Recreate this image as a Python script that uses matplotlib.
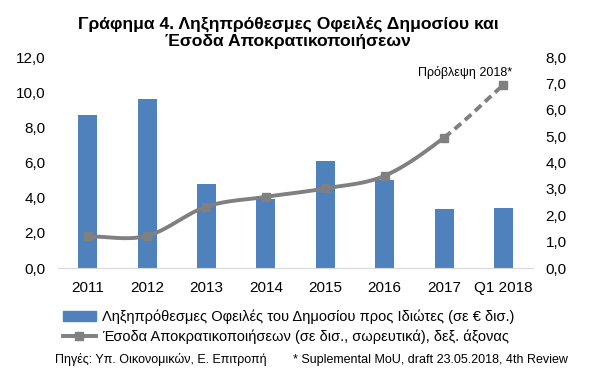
import numpy as np
import matplotlib
matplotlib.use("Agg")
import matplotlib.pyplot as plt
from matplotlib.ticker import FuncFormatter
from matplotlib.lines import Line2D
from matplotlib.patches import Patch

plt.rcParams['font.family'] = ['Liberation Sans', 'DejaVu Sans']

categories = ["2011", "2012", "2013", "2014", "2015", "2016", "2017", "Q1 2018"]
arrears = [8.7, 9.6, 4.8, 3.9, 6.1, 5.0, 3.35, 3.4]
privatisation = [1.2, 1.22, 2.33, 2.7, 3.02, 3.5, 4.95, 6.95]

title = "Γράφημα 4. Ληξηπρόθεσμες Οφειλές Δημοσίου και\nΈσοδα Αποκρατικοποιήσεων"
bar_label = "Ληξηπρόθεσμες Οφειλές του Δημοσίου προς Ιδιώτες (σε € δισ.)"
line_label = "Έσοδα Αποκρατικοποιήσεων (σε δισ., σωρευτικά), δεξ. άξονας"
source_text = "Πηγές: Υπ. Οικονομικών, Ε. Επιτροπή"
note_text = "* Suplemental MoU, draft 23.05.2018, 4th Review"
forecast_text = "Πρόβλεψη 2018*"

bar_color = "#4F81BD"
line_color = "#808080"

def catmull_rom(x, y, n=30):
    x = np.asarray(x, float); y = np.asarray(y, float)
    px = np.concatenate([[2*x[0]-x[1]], x, [2*x[-1]-x[-2]]])
    py = np.concatenate([[2*y[0]-y[1]], y, [2*y[-1]-y[-2]]])
    segs = []
    for i in range(1, len(px)-2):
        t = np.linspace(0, 1, n)
        def cr(p0, p1, p2, p3):
            return 0.5*((2*p1) + (-p0+p2)*t + (2*p0-5*p1+4*p2-p3)*t**2 + (-p0+3*p1-3*p2+p3)*t**3)
        segs.append((cr(px[i-1], px[i], px[i+1], px[i+2]), cr(py[i-1], py[i], py[i+1], py[i+2])))
    return segs

fig = plt.figure(figsize=(5.97, 3.89), dpi=100)
ax = fig.add_axes([0.097, 0.311, 0.796, 0.542])
x = np.arange(len(categories))
ax.bar(x, arrears, width=0.32, color=bar_color, zorder=2)
ax.set_xlim(-0.5, len(categories)-0.5)
ax.set_ylim(0, 12)
ax.set_yticks(np.arange(0, 12.01, 2))
fmt = FuncFormatter(lambda v, p: f"{v:.1f}".replace(".", ","))
ax.yaxis.set_major_formatter(fmt)
ax.set_xticks(x)
ax.set_xticklabels(categories)
for s in ["top", "right", "left"]:
    ax.spines[s].set_visible(False)
ax.spines["bottom"].set_color("#d9d9d9")
ax.tick_params(axis="both", length=0, labelsize=11, colors="#000000")
ax.tick_params(axis="x", pad=9)
ax.tick_params(axis="y", pad=9)

ax2 = ax.twinx()
ax2.set_ylim(0, 8)
ax2.set_yticks(np.arange(0, 8.01, 1))
ax2.yaxis.set_major_formatter(fmt)
for s in ["top", "right", "left", "bottom"]:
    ax2.spines[s].set_visible(False)
ax2.tick_params(axis="y", length=0, labelsize=11, pad=9)

segs = catmull_rom(x, privatisation)
for i, (sx, sy) in enumerate(segs):
    ls = (0, (2.2, 1.3)) if i == len(segs)-1 else "-"
    ax2.plot(sx, sy, color=line_color, lw=2.8, ls=ls, solid_capstyle="round", zorder=3)
ax2.plot(x, privatisation, ls="none", marker="s", ms=6, color=line_color, zorder=4)
ax2.text(x[-1]+0.15, privatisation[-1]+0.22, forecast_text, ha="right", va="bottom", fontsize=9)

fig.text(0.483, 0.915, title, ha="center", va="center", fontsize=12.6, fontweight="bold", linespacing=1.05)

handles = [Patch(color=bar_color), Line2D([0], [0], color=line_color, lw=2.8, marker="s", ms=6)]
fig.legend(handles, [bar_label, line_label], loc="upper left", bbox_to_anchor=(0.105, 0.204),
           frameon=False, fontsize=10.5, handlelength=2.3, handletextpad=0.4, labelspacing=0.4,
           borderaxespad=0, borderpad=0)

fig.text(0.092, 0.075, source_text, fontsize=9, va="center")
fig.text(0.49, 0.075, note_text, fontsize=9, va="center")

fig.savefig("out.png", dpi=100)
